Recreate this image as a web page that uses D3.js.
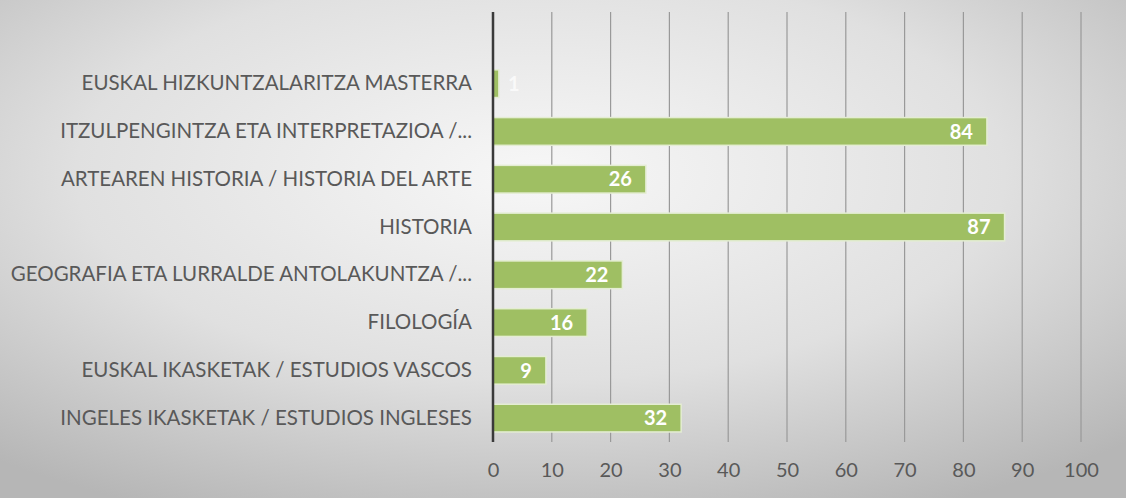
<!DOCTYPE html>
<html>
<head>
<meta charset="utf-8">
<script src="https://cdn.jsdelivr.net/npm/d3@7"></script>
<style>
  html, body { margin: 0; padding: 0; }
  svg { display: block; }
</style>
</head>
<body>
<div id="chart"></div>
<script>
var categories = [
  "EUSKAL HIZKUNTZALARITZA MASTERRA",
  "ITZULPENGINTZA ETA INTERPRETAZIOA /...",
  "ARTEAREN HISTORIA / HISTORIA DEL ARTE",
  "HISTORIA",
  "GEOGRAFIA ETA LURRALDE ANTOLAKUNTZA /...",
  "FILOLOGÍA",
  "EUSKAL IKASKETAK / ESTUDIOS VASCOS",
  "INGELES IKASKETAK / ESTUDIOS INGLESES"
];
var values = [1, 84, 26, 87, 22, 16, 9, 32];
var tickValues = [0, 10, 20, 30, 40, 50, 60, 70, 80, 90, 100];

var width  = 1126,
    height = 498;

var plotLeft = 493, plotRight = 1081,
    plotTop = 12, plotBottom = 442;
var band = (plotBottom - plotTop) / (categories.length + 1);
var font = "Lato, 'Open Sans', sans-serif";

var svg = d3.select("#chart").append("svg")
            .attr("width", width)
            .attr("height", height);

// background gradient
var defs = svg.append("defs");
var grad = defs.append("radialGradient")
               .attr("id", "bg")
               .attr("cx", "48%").attr("cy", "35%")
               .attr("r", "75%");
grad.append("stop").attr("offset", "0%").attr("stop-color", "#f7f7f7");
grad.append("stop").attr("offset", "55%").attr("stop-color", "#e0e0e0");
grad.append("stop").attr("offset", "100%").attr("stop-color", "#b6b6b6");

svg.append("rect")
   .attr("width", width).attr("height", height)
   .attr("fill", "url(#bg)");

var x = d3.scaleLinear().domain([0, 100]).range([plotLeft, plotRight]);

var y = d3.scaleBand()
          .domain(categories)
          .range([plotTop + band, plotBottom])
          .paddingInner(0.42)
          .paddingOuter(0.21);

// gridlines
svg.append("g")
   .selectAll("line")
   .data(tickValues.slice(1))
   .enter()
   .append("line")
   .attr("x1", function(d) { return x(d); })
   .attr("x2", function(d) { return x(d); })
   .attr("y1", plotTop)
   .attr("y2", plotBottom)
   .attr("stroke", "#999999")
   .attr("stroke-width", 1.2);

// x axis labels
var xAxis = d3.axisBottom(x).tickValues(tickValues).tickSize(0).tickPadding(0);
var gx = svg.append("g")
            .attr("transform", "translate(0," + 470 + ")")
            .call(xAxis);
gx.select(".domain").remove();
gx.selectAll("text")
  .attr("fill", "#595959")
  .attr("font-family", font)
  .attr("font-size", "20px")
  .attr("dy", "0.36em");

// bars
svg.append("g")
   .selectAll("rect")
   .data(values)
   .enter()
   .append("rect")
   .attr("x", x(0))
   .attr("y", function(d, i) { return y(categories[i]); })
   .attr("width", function(d) { return x(d) - x(0); })
   .attr("height", y.bandwidth())
   .attr("fill", "#9fbf63")
   .attr("stroke", "#e4edd3")
   .attr("stroke-width", 1.5);

// value labels
svg.append("g")
   .selectAll("text")
   .data(values)
   .enter()
   .append("text")
   .attr("x", function(d) { return d < 5 ? x(d) + 9 : x(d) - 14; })
   .attr("y", function(d, i) { return y(categories[i]) + y.bandwidth() / 2; })
   .attr("dy", "0.36em")
   .attr("text-anchor", function(d) { return d < 5 ? "start" : "end"; })
   .attr("fill", "#ffffff")
   .attr("fill-opacity", function(d) { return d < 5 ? 0.7 : 1; })
   .attr("font-family", font)
   .attr("font-weight", "bold")
   .attr("font-size", "20px")
   .text(function(d) { return d; });

// category axis
var yAxis = d3.axisLeft(y).tickSize(0).tickPadding(21);
var gy = svg.append("g")
            .attr("transform", "translate(" + plotLeft + ",0)")
            .call(yAxis);
gy.select(".domain").remove();
gy.selectAll("text")
  .attr("fill", "#595959")
  .attr("font-family", font)
  .attr("font-size", "20.5px");

svg.append("line")
   .attr("x1", plotLeft).attr("x2", plotLeft)
   .attr("y1", plotTop).attr("y2", plotBottom)
   .attr("stroke", "#3a3a3a")
   .attr("stroke-width", 2.5);
</script>
</body>
</html>
